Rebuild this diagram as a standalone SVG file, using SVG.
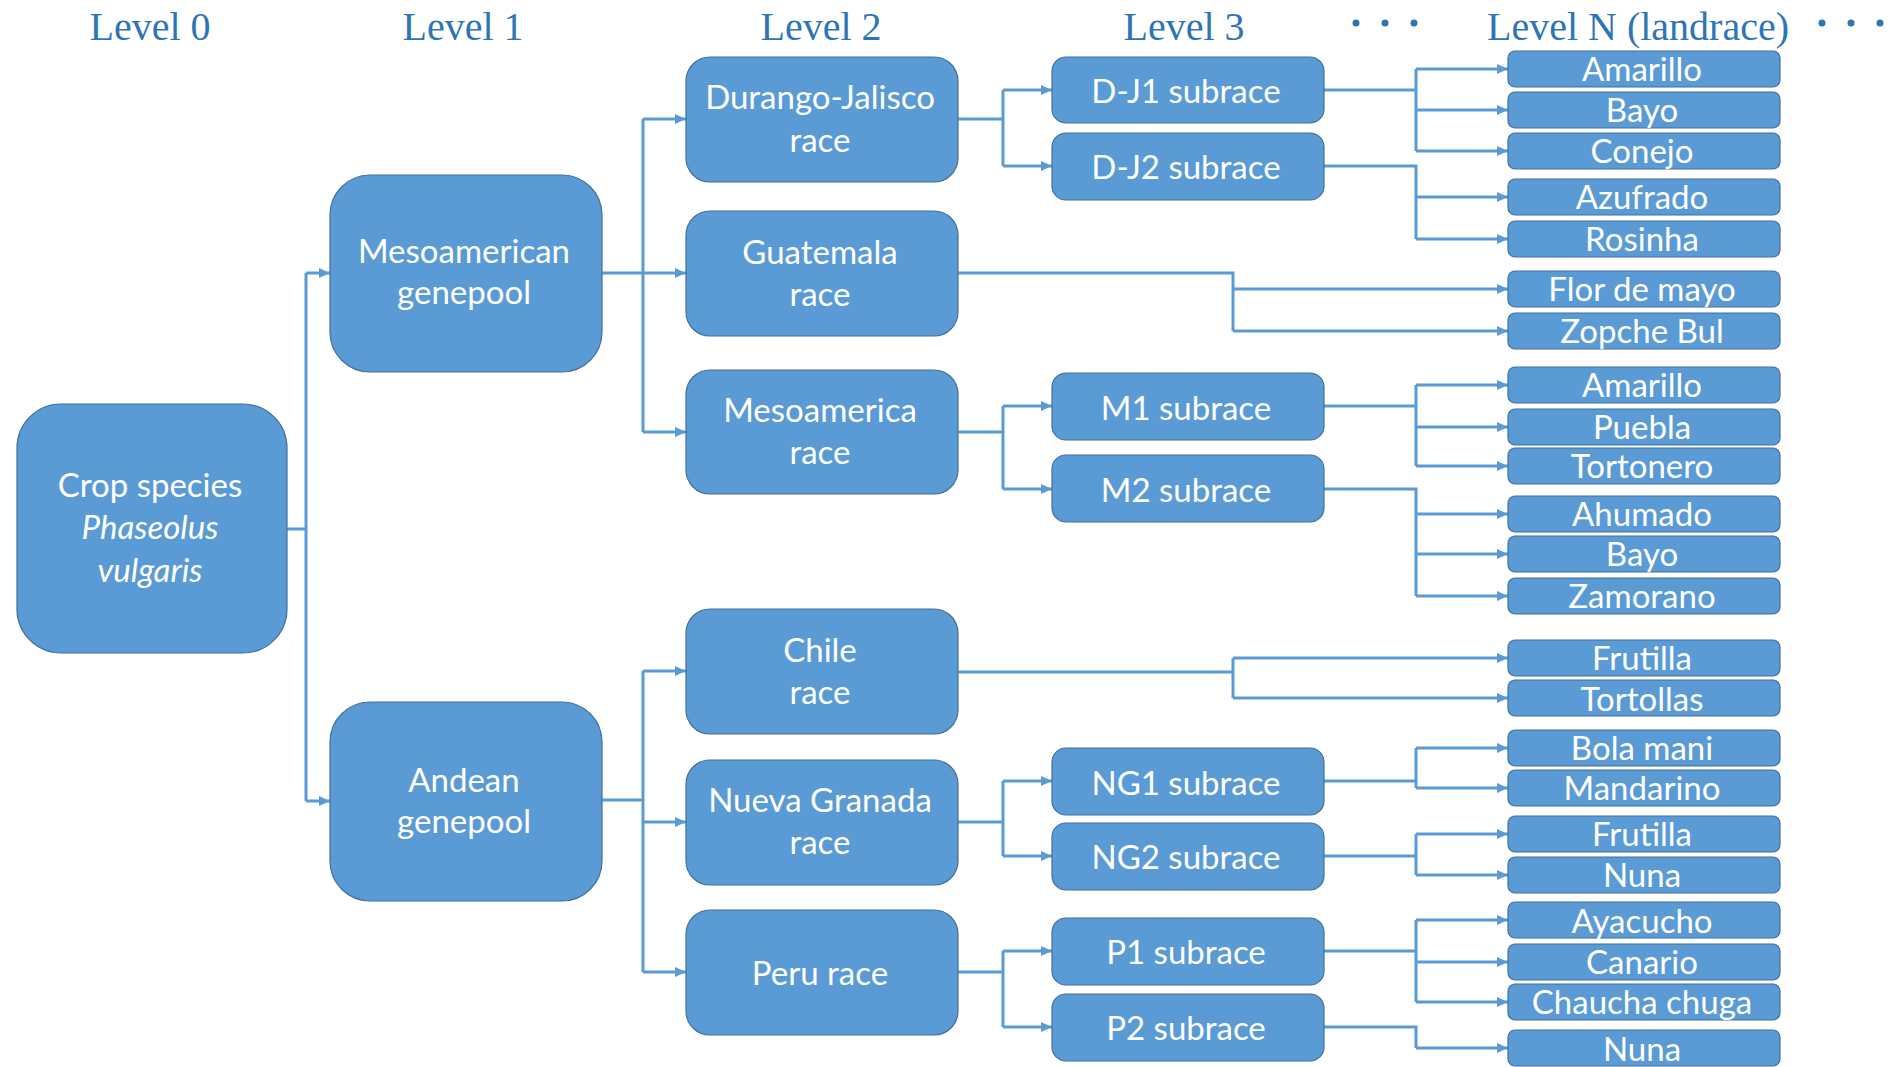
<svg xmlns="http://www.w3.org/2000/svg" width="1895" height="1067" viewBox="0 0 1895 1067">
<style>
.hd{font-family:"Liberation Serif","Times New Roman",serif;font-size:40px;fill:#2E75B6;text-anchor:middle}
.bx{fill:#5B9BD5;stroke:#41719C;stroke-width:1.2}
.t{font-family:Lato,"Liberation Sans",sans-serif;font-size:33px;fill:#FFFFFF;text-anchor:middle}
.it{font-style:italic}
.c{fill:none;stroke:#5B9BD5;stroke-width:3}
.a{fill:none;stroke:#5B9BD5;stroke-width:3;marker-end:url(#ah)}
.dot{fill:#2E75B6}
</style>
<defs>
<marker id="ah" markerUnits="userSpaceOnUse" markerWidth="11" markerHeight="10" viewBox="0 0 11 10" refX="11" refY="5" orient="auto">
<path d="M0,0 L11,5 L0,10 Z" fill="#5B9BD5"/>
</marker>
</defs>
<rect width="1895" height="1067" fill="#FFFFFF"/>
<g id="headers">
<text class="hd" x="150" y="40">Level 0</text>
<text class="hd" x="463" y="40">Level 1</text>
<text class="hd" x="821" y="40">Level 2</text>
<text class="hd" x="1184" y="40">Level 3</text>
<text class="hd" x="1638" y="40">Level N (landrace)</text>
<circle class="dot" cx="1356" cy="23" r="3.5"/><circle class="dot" cx="1385" cy="23" r="3.5"/><circle class="dot" cx="1414" cy="23" r="3.5"/>
<circle class="dot" cx="1822" cy="23" r="3.5"/><circle class="dot" cx="1851" cy="23" r="3.5"/><circle class="dot" cx="1880" cy="23" r="3.5"/>
</g>
<g id="connectors">
<path class="c" d="M287,529 H306 M306,273 V801"/>
<path class="a" d="M306,273 H330"/><path class="a" d="M306,801 H330"/>
<path class="c" d="M602,273 H643 M643,119 V432"/>
<path class="a" d="M643,119 H686"/><path class="a" d="M643,273 H686"/><path class="a" d="M643,432 H686"/>
<path class="c" d="M602,800 H643 M643,671 V972"/>
<path class="a" d="M643,671 H686"/><path class="a" d="M643,822 H686"/><path class="a" d="M643,972 H686"/>
<path class="c" d="M958,119 H1003 M1003,90 V166"/>
<path class="a" d="M1003,90 H1052"/><path class="a" d="M1003,166 H1052"/>
<path class="c" d="M958,432 H1003 M1003,406 V489"/>
<path class="a" d="M1003,406 H1052"/><path class="a" d="M1003,489 H1052"/>
<path class="c" d="M958,822 H1003 M1003,781 V856"/>
<path class="a" d="M1003,781 H1052"/><path class="a" d="M1003,856 H1052"/>
<path class="c" d="M958,972 H1003 M1003,951 V1027"/>
<path class="a" d="M1003,951 H1052"/><path class="a" d="M1003,1027 H1052"/>
<path class="c" d="M958,273 H1233 V331"/>
<path class="a" d="M1233,289 H1508"/><path class="a" d="M1233,331 H1508"/>
<path class="c" d="M958,672 H1233 M1233,658 V698"/>
<path class="a" d="M1233,658 H1508"/><path class="a" d="M1233,698 H1508"/>
<path class="c" d="M1324,90 H1416 M1416,69 V151"/>
<path class="a" d="M1416,69 H1508"/><path class="a" d="M1416,110 H1508"/><path class="a" d="M1416,151 H1508"/>
<path class="c" d="M1324,166 H1416 V239"/>
<path class="a" d="M1416,197 H1508"/><path class="a" d="M1416,239 H1508"/>
<path class="c" d="M1324,406 H1416 M1416,385 V466"/>
<path class="a" d="M1416,385 H1508"/><path class="a" d="M1416,427 H1508"/><path class="a" d="M1416,466 H1508"/>
<path class="c" d="M1324,489 H1416 V596"/>
<path class="a" d="M1416,514 H1508"/><path class="a" d="M1416,554 H1508"/><path class="a" d="M1416,596 H1508"/>
<path class="c" d="M1324,781 H1416 M1416,748 V788"/>
<path class="a" d="M1416,748 H1508"/><path class="a" d="M1416,788 H1508"/>
<path class="c" d="M1324,856 H1416 M1416,834 V875"/>
<path class="a" d="M1416,834 H1508"/><path class="a" d="M1416,875 H1508"/>
<path class="c" d="M1324,951 H1416 M1416,920 V1002"/>
<path class="a" d="M1416,920 H1508"/><path class="a" d="M1416,962 H1508"/><path class="a" d="M1416,1002 H1508"/>
<path class="c" d="M1324,1027 H1416 V1048"/>
<path class="a" d="M1416,1048 H1508"/>
</g>
<g id="crop"><rect class="bx" x="17" y="404" width="270" height="249" rx="44"/>
<text class="t" x="150" y="497">Crop species</text><text class="t it" x="150" y="539">Phaseolus</text><text class="t it" x="150" y="582">vulgaris</text></g>
<g id="meso-genepool"><rect class="bx" x="330" y="175" width="272" height="197" rx="40"/>
<text class="t" x="464" y="263">Mesoamerican</text><text class="t" x="464" y="304">genepool</text></g>
<g id="andean-genepool"><rect class="bx" x="330" y="702" width="272" height="199" rx="40"/>
<text class="t" x="464" y="792">Andean</text><text class="t" x="464" y="833">genepool</text></g>
<g id="durango"><rect class="bx" x="686" y="57" width="272" height="125" rx="24"/>
<text class="t" x="820" y="109">Durango-Jalisco</text><text class="t" x="820" y="152">race</text></g>
<g id="guatemala"><rect class="bx" x="686" y="211" width="272" height="125" rx="24"/>
<text class="t" x="820" y="264">Guatemala</text><text class="t" x="820" y="306">race</text></g>
<g id="mesoamerica-race"><rect class="bx" x="686" y="370" width="272" height="124" rx="24"/>
<text class="t" x="820" y="422">Mesoamerica</text><text class="t" x="820" y="464">race</text></g>
<g id="chile"><rect class="bx" x="686" y="609" width="272" height="125" rx="24"/>
<text class="t" x="820" y="662">Chile</text><text class="t" x="820" y="704">race</text></g>
<g id="nueva-granada"><rect class="bx" x="686" y="760" width="272" height="125" rx="24"/>
<text class="t" x="820" y="812">Nueva Granada</text><text class="t" x="820" y="854">race</text></g>
<g id="peru"><rect class="bx" x="686" y="910" width="272" height="125" rx="24"/>
<text class="t" x="820" y="985">Peru race</text></g>
<g id="dj1"><rect class="bx" x="1052" y="57" width="272" height="66" rx="14"/><text class="t" x="1186" y="103">D-J1 subrace</text></g>
<g id="dj2"><rect class="bx" x="1052" y="133" width="272" height="67" rx="14"/><text class="t" x="1186" y="179">D-J2 subrace</text></g>
<g id="m1"><rect class="bx" x="1052" y="373" width="272" height="67" rx="14"/><text class="t" x="1186" y="420">M1 subrace</text></g>
<g id="m2"><rect class="bx" x="1052" y="455" width="272" height="67" rx="14"/><text class="t" x="1186" y="502">M2 subrace</text></g>
<g id="ng1"><rect class="bx" x="1052" y="748" width="272" height="67" rx="14"/><text class="t" x="1186" y="795">NG1 subrace</text></g>
<g id="ng2"><rect class="bx" x="1052" y="823" width="272" height="67" rx="14"/><text class="t" x="1186" y="869">NG2 subrace</text></g>
<g id="p1"><rect class="bx" x="1052" y="918" width="272" height="67" rx="14"/><text class="t" x="1186" y="964">P1 subrace</text></g>
<g id="p2"><rect class="bx" x="1052" y="994" width="272" height="67" rx="14"/><text class="t" x="1186" y="1040">P2 subrace</text></g>
<g id="l-amarillo1"><rect class="bx" x="1508" y="51" width="272" height="36" rx="7"/><text class="t" x="1642" y="81">Amarillo</text></g>
<g id="l-bayo1"><rect class="bx" x="1508" y="92" width="272" height="36" rx="7"/><text class="t" x="1642" y="122">Bayo</text></g>
<g id="l-conejo"><rect class="bx" x="1508" y="133" width="272" height="36" rx="7"/><text class="t" x="1642" y="163">Conejo</text></g>
<g id="l-azufrado"><rect class="bx" x="1508" y="179" width="272" height="36" rx="7"/><text class="t" x="1642" y="209">Azufrado</text></g>
<g id="l-rosinha"><rect class="bx" x="1508" y="221" width="272" height="36" rx="7"/><text class="t" x="1642" y="251">Rosinha</text></g>
<g id="l-flor"><rect class="bx" x="1508" y="271" width="272" height="36" rx="7"/><text class="t" x="1642" y="301">Flor de mayo</text></g>
<g id="l-zopche"><rect class="bx" x="1508" y="313" width="272" height="36" rx="7"/><text class="t" x="1642" y="343">Zopche Bul</text></g>
<g id="l-amarillo2"><rect class="bx" x="1508" y="367" width="272" height="36" rx="7"/><text class="t" x="1642" y="397">Amarillo</text></g>
<g id="l-puebla"><rect class="bx" x="1508" y="409" width="272" height="36" rx="7"/><text class="t" x="1642" y="439">Puebla</text></g>
<g id="l-tortonero"><rect class="bx" x="1508" y="448" width="272" height="36" rx="7"/><text class="t" x="1642" y="478">Tortonero</text></g>
<g id="l-ahumado"><rect class="bx" x="1508" y="496" width="272" height="36" rx="7"/><text class="t" x="1642" y="526">Ahumado</text></g>
<g id="l-bayo2"><rect class="bx" x="1508" y="536" width="272" height="36" rx="7"/><text class="t" x="1642" y="566">Bayo</text></g>
<g id="l-zamorano"><rect class="bx" x="1508" y="578" width="272" height="36" rx="7"/><text class="t" x="1642" y="608">Zamorano</text></g>
<g id="l-frutilla1"><rect class="bx" x="1508" y="640" width="272" height="36" rx="7"/><text class="t" x="1642" y="670">Frutilla</text></g>
<g id="l-tortollas"><rect class="bx" x="1508" y="680" width="272" height="36" rx="7"/><text class="t" x="1642" y="711">Tortollas</text></g>
<g id="l-bolamani"><rect class="bx" x="1508" y="730" width="272" height="36" rx="7"/><text class="t" x="1642" y="760">Bola mani</text></g>
<g id="l-mandarino"><rect class="bx" x="1508" y="770" width="272" height="36" rx="7"/><text class="t" x="1642" y="800">Mandarino</text></g>
<g id="l-frutilla2"><rect class="bx" x="1508" y="816" width="272" height="36" rx="7"/><text class="t" x="1642" y="846">Frutilla</text></g>
<g id="l-nuna1"><rect class="bx" x="1508" y="857" width="272" height="36" rx="7"/><text class="t" x="1642" y="887">Nuna</text></g>
<g id="l-ayacucho"><rect class="bx" x="1508" y="902" width="272" height="36" rx="7"/><text class="t" x="1642" y="933">Ayacucho</text></g>
<g id="l-canario"><rect class="bx" x="1508" y="944" width="272" height="36" rx="7"/><text class="t" x="1642" y="974">Canario</text></g>
<g id="l-chaucha"><rect class="bx" x="1508" y="984" width="272" height="36" rx="7"/><text class="t" x="1642" y="1014">Chaucha chuga</text></g>
<g id="l-nuna2"><rect class="bx" x="1508" y="1030" width="272" height="36" rx="7"/><text class="t" x="1642" y="1061">Nuna</text></g>
</svg>
